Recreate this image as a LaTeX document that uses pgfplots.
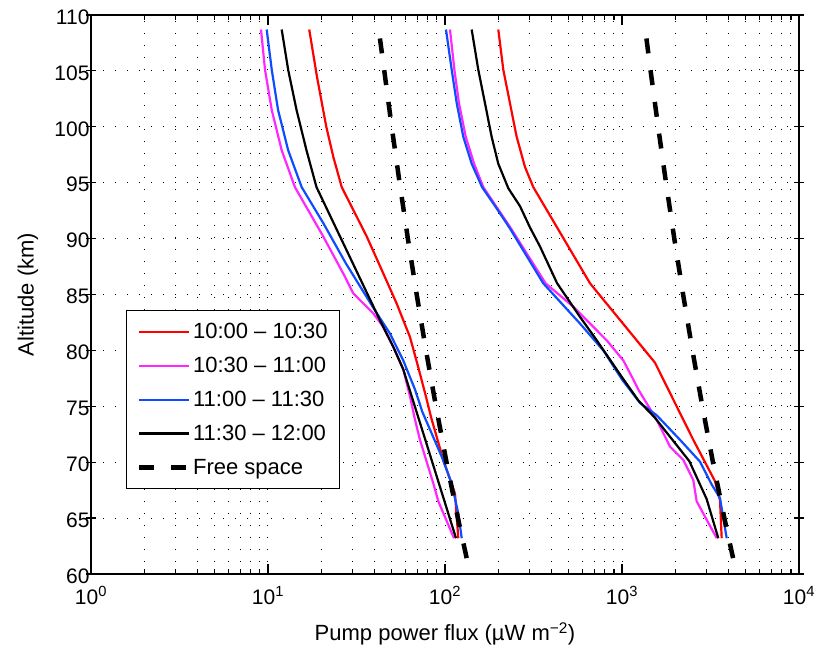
\documentclass[border=0pt]{standalone}
\usepackage{fontspec}
\setmainfont{Liberation Sans}
\usepackage{pgfplots}
\pgfplotsset{compat=1.18}
\definecolor{cred}{rgb}{1,0,0}
\definecolor{cmag}{rgb}{1,0.15,1}
\definecolor{cblue}{rgb}{0.05,0.3,1}
\begin{document}
\begin{tikzpicture}[font=\fontsize{22}{26}\selectfont]
\useasboundingbox (-91pt,-76pt) rectangle (723pt,574pt);
\begin{axis}[
  at={(0pt,0pt)}, anchor=south west,
  scale only axis, width=708pt, height=559pt,
  xmode=log, log basis x=10,
  xmin=1, xmax=10000, ymin=60, ymax=110,
  xtick={1,10,100,1000,10000},
  xticklabels={10\textsuperscript{0},10\textsuperscript{1},10\textsuperscript{2},10\textsuperscript{3},10\textsuperscript{4}},
  minor xtick={2,3,4,5,6,7,8,9,20,30,40,50,60,70,80,90,200,300,400,500,600,700,800,900,2000,3000,4000,5000,6000,7000,8000,9000},
  ytick={60,65,...,110},
  /pgf/number format/assume math mode=true,
  ticklabel style={font=\fontsize{21}{25}\selectfont},
  xticklabel style={yshift=-9pt},
  yticklabel style={xshift=7pt, yshift=-2pt},
  axis line style={line width=2pt},
  every tick/.style={black, line width=1.2pt},
  major tick length=10pt, minor tick length=5pt,
  xtick align=inside, ytick align=center,
  xmajorgrids, xminorgrids, ymajorgrids,
  grid style={black, line width=1pt, dash pattern=on 1.2pt off 10.8pt},
  major grid style={black, line width=1pt, dash pattern=on 1.2pt off 10.8pt},
  minor grid style={black, line width=1pt, dash pattern=on 1.2pt off 10.8pt},
  xlabel={Pump power flux (µW m\textsuperscript{−2})},
  ylabel={Altitude (km)},
  xlabel style={at={(axis description cs:0.5,-0.107)}, anchor=center},
  ylabel style={at={(axis description cs:-0.089,0.5)}, anchor=center},
  legend style={at={(axis description cs:0.0494,0.4723)}, anchor=north west,
    draw=black, line width=1.2pt, fill=white, inner xsep=10pt, inner ysep=11pt,
    row sep=13pt, font=\fontsize{22}{26}\selectfont},
  legend cell align=left,
  legend image code/.code={\draw[#1, line cap=butt] (0pt,0pt) -- (50pt,0pt);},
]
% left group
\addplot[cred, line width=2.2pt] coordinates {(17.1,108.7)(18.9,104.5)(21.35,100.0)(23.4,97.3)(26.1,94.6)(36.1,90.2)(43.9,87.2)(53.3,84.2)(63.4,81.2)(70.6,78.5)(77.1,76.2)(83.5,74.0)(97.8,70.2)(113.9,67.2)(118.9,63.2)};
\addlegendentry{10:00 -- 10:30}
\addplot[cmag, line width=2.2pt] coordinates {(9.13,108.7)(9.62,105.1)(10.5,101.5)(11.95,97.9)(14.2,94.6)(20.5,90.2)(27.2,86.6)(30.3,85.1)(39.4,83.3)(44.8,82.1)(51.1,80.3)(58.1,78.3)(63.4,75.9)(67.7,73.8)(72.2,72.0)(85.9,68.1)(91.7,66.5)(112.4,63.2)};
\addlegendentry{10:30 -- 11:00}
\addplot[cblue, line width=2.2pt] coordinates {(9.83,108.7)(10.5,105.1)(11.4,101.5)(13.0,97.9)(15.5,94.6)(20.5,91.4)(27.5,87.8)(39.4,83.8)(48.9,81.5)(58.1,79.1)(67.7,76.5)(74.5,74.5)(95.8,70.5)(109.1,68.1)(118.9,65.4)(124.3,63.2)};
\addlegendentry{11:00 -- 11:30}
\addplot[black, line width=2.2pt] coordinates {(11.95,108.7)(13.0,105.1)(14.5,101.5)(16.5,97.9)(18.8,94.6)(42.9,82.7)(51.1,80.3)(58.1,78.3)(78.5,71.7)(115.4,63.2)};
\addlegendentry{11:30 -- 12:00}
\addplot[black, line width=4.5pt, dash pattern=on 15pt off 17pt] coordinates {(42.9,107.9)(45.4,105)(50.0,100)(55.4,95)(61.7,90)(69.2,85)(78.1,80)(88.9,75)(102,70)(118.3,65)(133.1,61.3)};
\addlegendentry{Free space}
% right group
\addplot[cred, line width=2.2pt, forget plot] coordinates {(200,108.7)(213.5,105.1)(232.9,102.1)(254.1,99.1)(283.1,96.4)(315.5,94.6)(659.6,86.0)(1536,78.9)(2528,72.0)(3353,68.3)(3578,66.6)(3658,63.2)};
\addplot[cmag, line width=2.2pt, forget plot] coordinates {(106.7,108.7)(113,105.1)(120,102.1)(131,99.1)(146,96.7)(164.6,94.6)(200,92.6)(236,90.9)(370,86.0)(531,83.9)(820,80.9)(1017,79.1)(1158,77.4)(1236,76.5)(1570,73.8)(1867,71.4)(2220,70.2)(2528,68.4)(2642,66.5)(3428,63.2)};
\addplot[cblue, line width=2.2pt, forget plot] coordinates {(101.3,108.7)(109.1,105.1)(116.5,102.1)(126.9,99.1)(141.5,96.7)(162,94.6)(195.9,92.7)(232.9,90.9)(359,86.0)(579,82.4)(784,80.0)(1000,77.4)(1264,75.3)(1570,74.2)(2127,72.0)(2758,70.05)(3212,68.0)(3578,66.8)(3905,63.2)};
\addplot[black, line width=2.2pt, forget plot] coordinates {(141.5,108.7)(154.2,105.1)(168.3,102.1)(183.5,99.1)(200,96.7)(227.9,94.5)(265.3,92.9)(302,91.0)(344,89.3)(430,86.0)(579,83.0)(720,80.9)(1000,77.6)(1240,75.5)(1530,74.0)(2400,70.1)(3009,66.7)(3499,63.2)};
\addplot[black, line width=4.5pt, dash pattern=on 15pt off 17pt, forget plot] coordinates {(1374,107.9)(1451,105)(1600,100)(1773,95)(1975,90)(2215,85)(2500,80)(2844,75)(3265,70)(3787,65)(4258,61.3)};
\end{axis}
\end{tikzpicture}
\end{document}
